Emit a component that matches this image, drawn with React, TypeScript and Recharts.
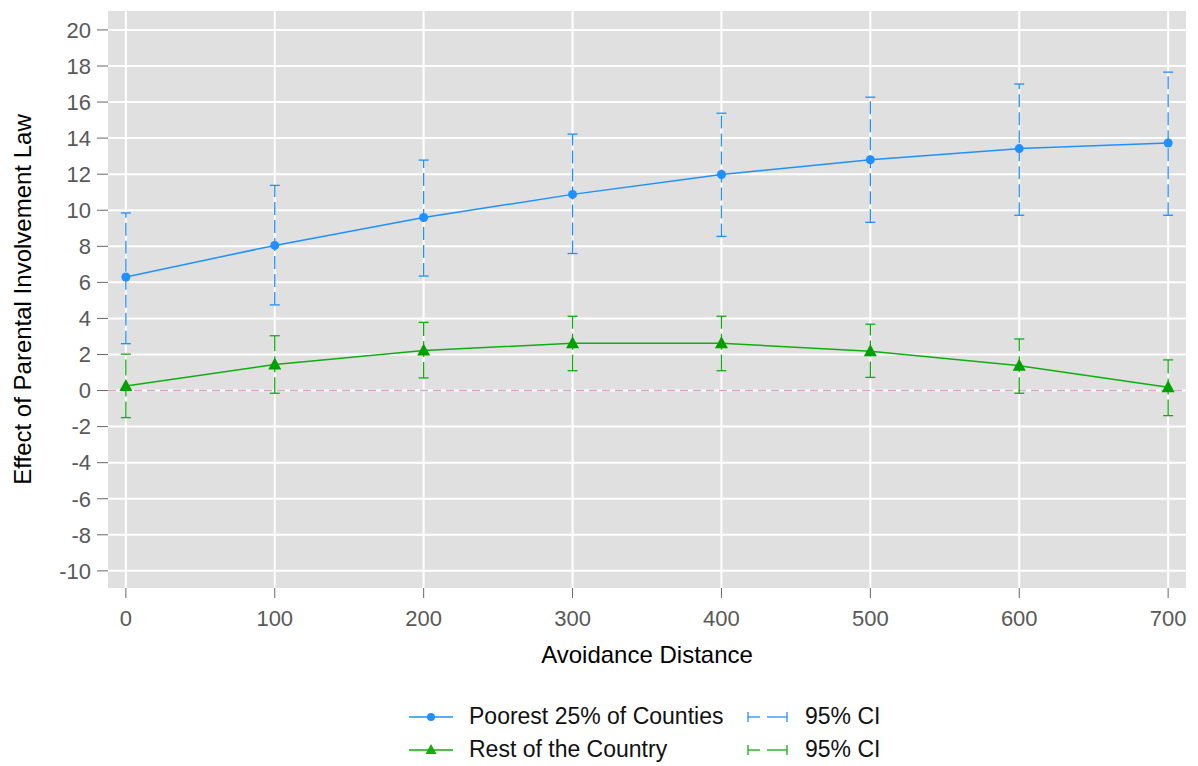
import React from 'react';
import { LineChart, Line, XAxis, YAxis, CartesianGrid, ReferenceLine, ErrorBar } from 'recharts';

// Avoidance distance (x) and estimated effects with 95% CI bounds
const distances = [0, 100, 200, 300, 400, 500, 600, 700];

const poorEffect = [6.3, 8.05, 9.6, 10.88, 11.98, 12.8, 13.42, 13.73];
const poorLow = [2.6, 4.75, 6.35, 7.6, 8.55, 9.33, 9.72, 9.72];
const poorHigh = [9.85, 11.38, 12.78, 14.22, 15.38, 16.27, 17.0, 17.66];

const restEffect = [0.25, 1.45, 2.22, 2.62, 2.62, 2.18, 1.38, 0.18];
const restLow = [-1.5, -0.15, 0.7, 1.1, 1.1, 0.73, -0.15, -1.39];
const restHigh = [2.02, 3.04, 3.78, 4.12, 4.12, 3.68, 2.86, 1.7];

const yTicks = [-10, -8, -6, -4, -2, 0, 2, 4, 6, 8, 10, 12, 14, 16, 18, 20];

const BLUE = '#1e90ff';
const GREEN = '#0fae0f';
const FONT = '"Liberation Sans", Arial, sans-serif';

const chartData = distances.map((d, i) => ({
  distance: d,
  poor: poorEffect[i],
  poorErr: [poorEffect[i] - poorLow[i], poorHigh[i] - poorEffect[i]],
  rest: restEffect[i],
  restErr: [restEffect[i] - restLow[i], restHigh[i] - restEffect[i]],
}));

const Triangle = (props: any) => {
  const { cx, cy, fill } = props;
  if (cx == null || cy == null) return null;
  return <polygon points={`${cx},${cy - 7} ${cx - 6.5},${cy + 5} ${cx + 6.5},${cy + 5}`} fill={fill} />;
};

const LegendRow = ({ color, label, marker }: { color: string; label: string; marker: 'circle' | 'triangle' }) => (
  <div style={{ display: 'flex', alignItems: 'center', height: 33 }}>
    <svg width={44} height={20} style={{ marginRight: 16 }}>
      <line x1={0} y1={10} x2={44} y2={10} stroke={color} strokeWidth={1.5} />
      {marker === 'circle' ? (
        <circle cx={22} cy={10} r={4} fill={color} />
      ) : (
        <polygon points="22,4 16.5,14 27.5,14" fill={color} />
      )}
    </svg>
    <span style={{ width: 278, fontSize: 23, color: '#111' }}>{label}</span>
    <svg width={42} height={20} style={{ marginRight: 16 }}>
      <line x1={1} y1={10} x2={13} y2={10} stroke={color} strokeWidth={1.3} />
      <line x1={20} y1={10} x2={40} y2={10} stroke={color} strokeWidth={1.3} />
      <line x1={1} y1={5} x2={1} y2={15} stroke={color} strokeWidth={1.3} />
      <line x1={40} y1={5} x2={40} y2={15} stroke={color} strokeWidth={1.3} />
    </svg>
    <span style={{ fontSize: 23, color: '#111' }}>95% CI</span>
  </div>
);

export default function App() {
  return (
    <div style={{ position: 'absolute', left: 0, top: 0, width: 1198, height: 766, background: '#fff', fontFamily: FONT }}>
      <LineChart width={1198} height={766} data={chartData} margin={{ top: 11, right: 12, bottom: 98, left: 0 }}>
        <CartesianGrid
          fill="#e0e0e0"
          fillOpacity={1}
          stroke="#ffffff"
          strokeWidth={2}
          horizontalValues={yTicks}
          verticalValues={distances}
        />
        <XAxis
          dataKey="distance"
          type="number"
          domain={[-12, 712]}
          ticks={distances}
          axisLine={false}
          tickLine={{ stroke: '#666', strokeWidth: 1 }}
          tickSize={10}
          tickMargin={12}
          height={80}
          tick={{ fill: '#595959', fontSize: 22, fontFamily: FONT }}
          label={{ value: 'Avoidance Distance', position: 'insideBottom', offset: 5, fill: '#000', fontSize: 24, fontFamily: FONT }}
        />
        <YAxis
          type="number"
          domain={[-10.95, 21.05]}
          ticks={yTicks}
          allowDataOverflow
          axisLine={false}
          tickLine={{ stroke: '#666', strokeWidth: 1 }}
          tickSize={11}
          tickMargin={6}
          width={108}
          tick={{ fill: '#595959', fontSize: 22, fontFamily: FONT }}
          label={{
            value: 'Effect of Parental Involvement Law',
            angle: -90,
            position: 'insideLeft',
            offset: 22,
            fill: '#000',
            fontSize: 24,
            fontFamily: FONT,
            style: { textAnchor: 'middle' },
          }}
        />
        <ReferenceLine y={0} stroke="#d9a3c6" strokeWidth={1.5} strokeDasharray="8 5" />
        <Line
          dataKey="poor"
          stroke={BLUE}
          strokeWidth={1.5}
          dot={{ r: 4.5, fill: BLUE, stroke: BLUE, strokeWidth: 0 }}
          isAnimationActive={false}
        >
          <ErrorBar dataKey="poorErr" width={5} stroke={BLUE} strokeWidth={1.3} strokeDasharray="13 5" />
        </Line>
        <Line
          dataKey="rest"
          stroke={GREEN}
          strokeWidth={1.5}
          dot={<Triangle fill="#00a000" />}
          isAnimationActive={false}
        >
          <ErrorBar dataKey="restErr" width={5} stroke={GREEN} strokeWidth={1.3} strokeDasharray="16 5" />
        </Line>
      </LineChart>
      <div style={{ position: 'absolute', left: 409, top: 700, fontFamily: FONT }}>
        <LegendRow color={BLUE} label="Poorest 25% of Counties" marker="circle" />
        <LegendRow color={GREEN} label="Rest of the Country" marker="triangle" />
      </div>
    </div>
  );
}
